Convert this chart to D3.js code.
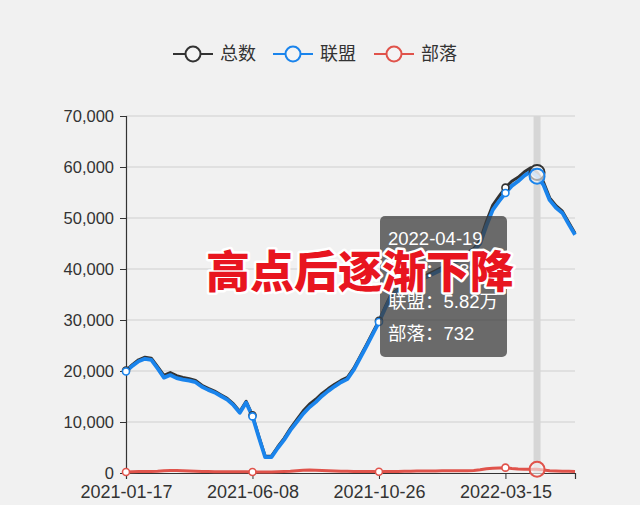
<!DOCTYPE html>
<html><head><meta charset="utf-8">
<script src="https://cdn.jsdelivr.net/npm/d3@7"></script>
<style>
html,body{margin:0;padding:0;background:#f1f1f1;}
svg{display:block;}
</style></head>
<body><svg id="c" width="640" height="505"></svg>
<script>
const dates = ["2021-01-17","2021-01-24","2021-01-31","2021-02-07","2021-02-14","2021-02-21","2021-02-28","2021-03-07","2021-03-14","2021-03-21","2021-03-28","2021-04-04","2021-04-11","2021-04-18","2021-04-25","2021-05-02","2021-05-09","2021-05-16","2021-05-23","2021-05-30",
"2021-06-08","2021-06-15","2021-06-22","2021-06-29","2021-07-06","2021-07-13","2021-07-20","2021-07-27","2021-08-03","2021-08-10","2021-08-17","2021-08-24","2021-08-31","2021-09-07","2021-09-14","2021-09-21","2021-09-28","2021-10-05","2021-10-12","2021-10-19",
"2021-10-26","2021-11-02","2021-11-09","2021-11-16","2021-11-23","2021-11-30","2021-12-07","2021-12-14","2021-12-21","2021-12-28","2022-01-04","2022-01-11","2022-01-18","2022-01-25","2022-02-01","2022-02-08","2022-02-15","2022-02-22","2022-03-01","2022-03-08",
"2022-03-15","2022-03-22","2022-03-29","2022-04-05","2022-04-12","2022-04-19","2022-04-26","2022-05-03","2022-05-10","2022-05-17","2022-05-24","2022-05-31"];

const alliance = [19900,21000,21900,22400,22200,20500,18700,19200,18600,18300,18100,17800,16900,16300,15800,15100,14400,13300,11800,13800,
11100,7000,3100,3100,4900,6500,8400,10000,11600,12900,13900,15100,16100,17000,17800,18400,20200,22500,24800,27200,
29600,32300,34900,35700,36300,36900,37500,38100,38700,39300,39900,40600,41300,42000,42800,43500,45000,48500,51600,53300,
54900,56300,57200,58300,59100,58200,56500,53500,52000,51000,48800,46700];

const horde = [200,250,300,300,300,350,450,500,500,450,400,350,300,300,250,250,250,250,250,250,
200,200,200,200,250,300,350,450,550,600,550,500,450,400,350,350,300,300,300,300,
250,300,300,300,350,350,400,400,400,400,450,450,450,450,450,500,650,850,950,1000,
1050,900,780,750,730,732,600,450,400,350,350,300];

const total = [20100,21250,22200,22700,22500,20850,19150,19700,19100,18750,18500,18150,17200,16600,16050,15350,14650,13550,12050,14050,
11300,7200,3300,3300,5150,6800,8750,10450,12150,13500,14450,15600,16550,17400,18150,18750,20500,22800,25100,27500,
29850,32600,35200,36000,36650,37250,37900,38500,39100,39700,40350,41050,41750,42450,43250,44000,45650,49350,52550,54300,
55950,57200,57980,59050,59830,58932,57100,53950,52400,51350,49150,47000];

const seriesNames = ["总数","联盟","部落"];
const seriesColors = ["#333333","#1a84ec","#e0534b"];
const xTickLabels = ["2021-01-17","2021-06-08","2021-10-26","2022-03-15"];
const yTicks = [0,10000,20000,30000,40000,50000,60000,70000];
const hoverDate = "2022-04-19";
const tooltipLines = ["2022-04-19","总数：5.89万","联盟：5.82万","部落：732"];
const overlayText = "高点后逐渐下降";

(function(){
const svg = d3.select("#c");
const W=640,H=505;
const pL=126,pR=575,pT=116,pB=473;
const x = d3.scalePoint().domain(dates).range([pL,pR]);
const y = d3.scaleLinear().domain([0,70000]).range([pB,pT]);
const font = "'Liberation Sans', Arial, 'Noto Sans CJK SC', sans-serif";

svg.append("rect").attr("width",W).attr("height",H).attr("fill","#f1f1f1");

// grid
svg.append("g").selectAll("line").data(yTicks.filter(d=>d>0)).join("line")
  .attr("x1",pL).attr("x2",pR).attr("y1",d=>y(d)).attr("y2",d=>y(d))
  .attr("stroke","#cfcfcf").attr("stroke-width",1);

// axis pointer band
svg.append("line").attr("x1",x(hoverDate)).attr("x2",x(hoverDate)).attr("y1",pT).attr("y2",pB)
  .attr("stroke","#d6d6d6").attr("stroke-width",7);

// y axis
const yAxis = d3.axisLeft(y).tickValues(yTicks).tickSize(6).tickPadding(6).tickFormat(d3.format(","));
const gy = svg.append("g").attr("transform",`translate(${pL},0)`).call(yAxis);
gy.select(".domain").attr("stroke","#333").attr("stroke-width",1.2);
gy.selectAll(".tick line").attr("stroke","#333");
gy.selectAll("text").attr("fill","#333").style("font-family",font).style("font-size","16.5px");

// x axis
const xAxis = d3.axisBottom(x).tickValues(xTickLabels).tickSize(6).tickPadding(6);
const gx = svg.append("g").attr("transform",`translate(0,${pB})`).call(xAxis);
gx.select(".domain").attr("stroke","#333").attr("stroke-width",1.2);
gx.selectAll(".tick line").attr("stroke","#333");
gx.selectAll("text").attr("fill","#333").style("font-family",font).style("font-size","18px");

// lines
const data = [total, alliance, horde];
const widths = [3,3.8,3];
data.forEach((vals,i)=>{
  const line = d3.line().x((d,j)=>x(dates[j])).y(d=>y(d));
  svg.append("path").datum(vals).attr("d",line).attr("fill","none")
    .attr("stroke",seriesColors[i]).attr("stroke-width",widths[i]).attr("stroke-linejoin","round");
});
// small markers at label positions
data.forEach((vals,i)=>{
  svg.append("g").selectAll("circle").data(xTickLabels).join("circle")
    .attr("cx",d=>x(d)).attr("cy",d=>y(vals[dates.indexOf(d)])).attr("r",3.5)
    .attr("fill","#fff").attr("stroke",seriesColors[i]).attr("stroke-width",1.6);
});
// hover markers
data.forEach((vals,i)=>{
  svg.append("circle").attr("cx",x(hoverDate)).attr("cy",y(vals[dates.indexOf(hoverDate)])).attr("r",7.5)
    .attr("fill","#f6f6f6").attr("fill-opacity",0.6).attr("stroke",seriesColors[i]).attr("stroke-width",2);
});

// legend
const legendX = [193,293,394];
seriesNames.forEach((n,i)=>{
  const g = svg.append("g").attr("transform",`translate(${legendX[i]},54)`);
  g.append("line").attr("x1",-20).attr("x2",20).attr("stroke",seriesColors[i]).attr("stroke-width",2);
  g.append("circle").attr("r",7.5).attr("fill","#f4f4f4").attr("stroke",seriesColors[i]).attr("stroke-width",2);
  g.append("text").attr("x",27).attr("y",0).attr("dy","0.35em").text(n)
    .attr("fill","#333").style("font-family","'Noto Sans CJK SC', sans-serif").style("font-size","18px");
});

// tooltip
const tt = svg.append("g").attr("transform","translate(380,216)");
tt.append("rect").attr("width",127).attr("height",141).attr("rx",5).attr("fill","rgba(60,60,60,0.75)");
tooltipLines.forEach((t,i)=>{
  tt.append("text").attr("x",8).attr("y",23+i*31.5).attr("dy","0.35em").text(t)
    .attr("fill","#fff").style("font-family",font).style("font-size","18.5px");
});

// overlay title
svg.append("text").attr("x",360).attr("y",272).attr("dy","0.36em").attr("text-anchor","middle")
  .text(overlayText).attr("fill","#e8151f").attr("stroke","#fff").attr("stroke-width",5)
  .attr("paint-order","stroke").attr("stroke-linejoin","round")
  .style("font-family","'Noto Sans CJK SC', sans-serif").style("font-weight","900").style("font-size","44px");
})();
</script></body></html>
